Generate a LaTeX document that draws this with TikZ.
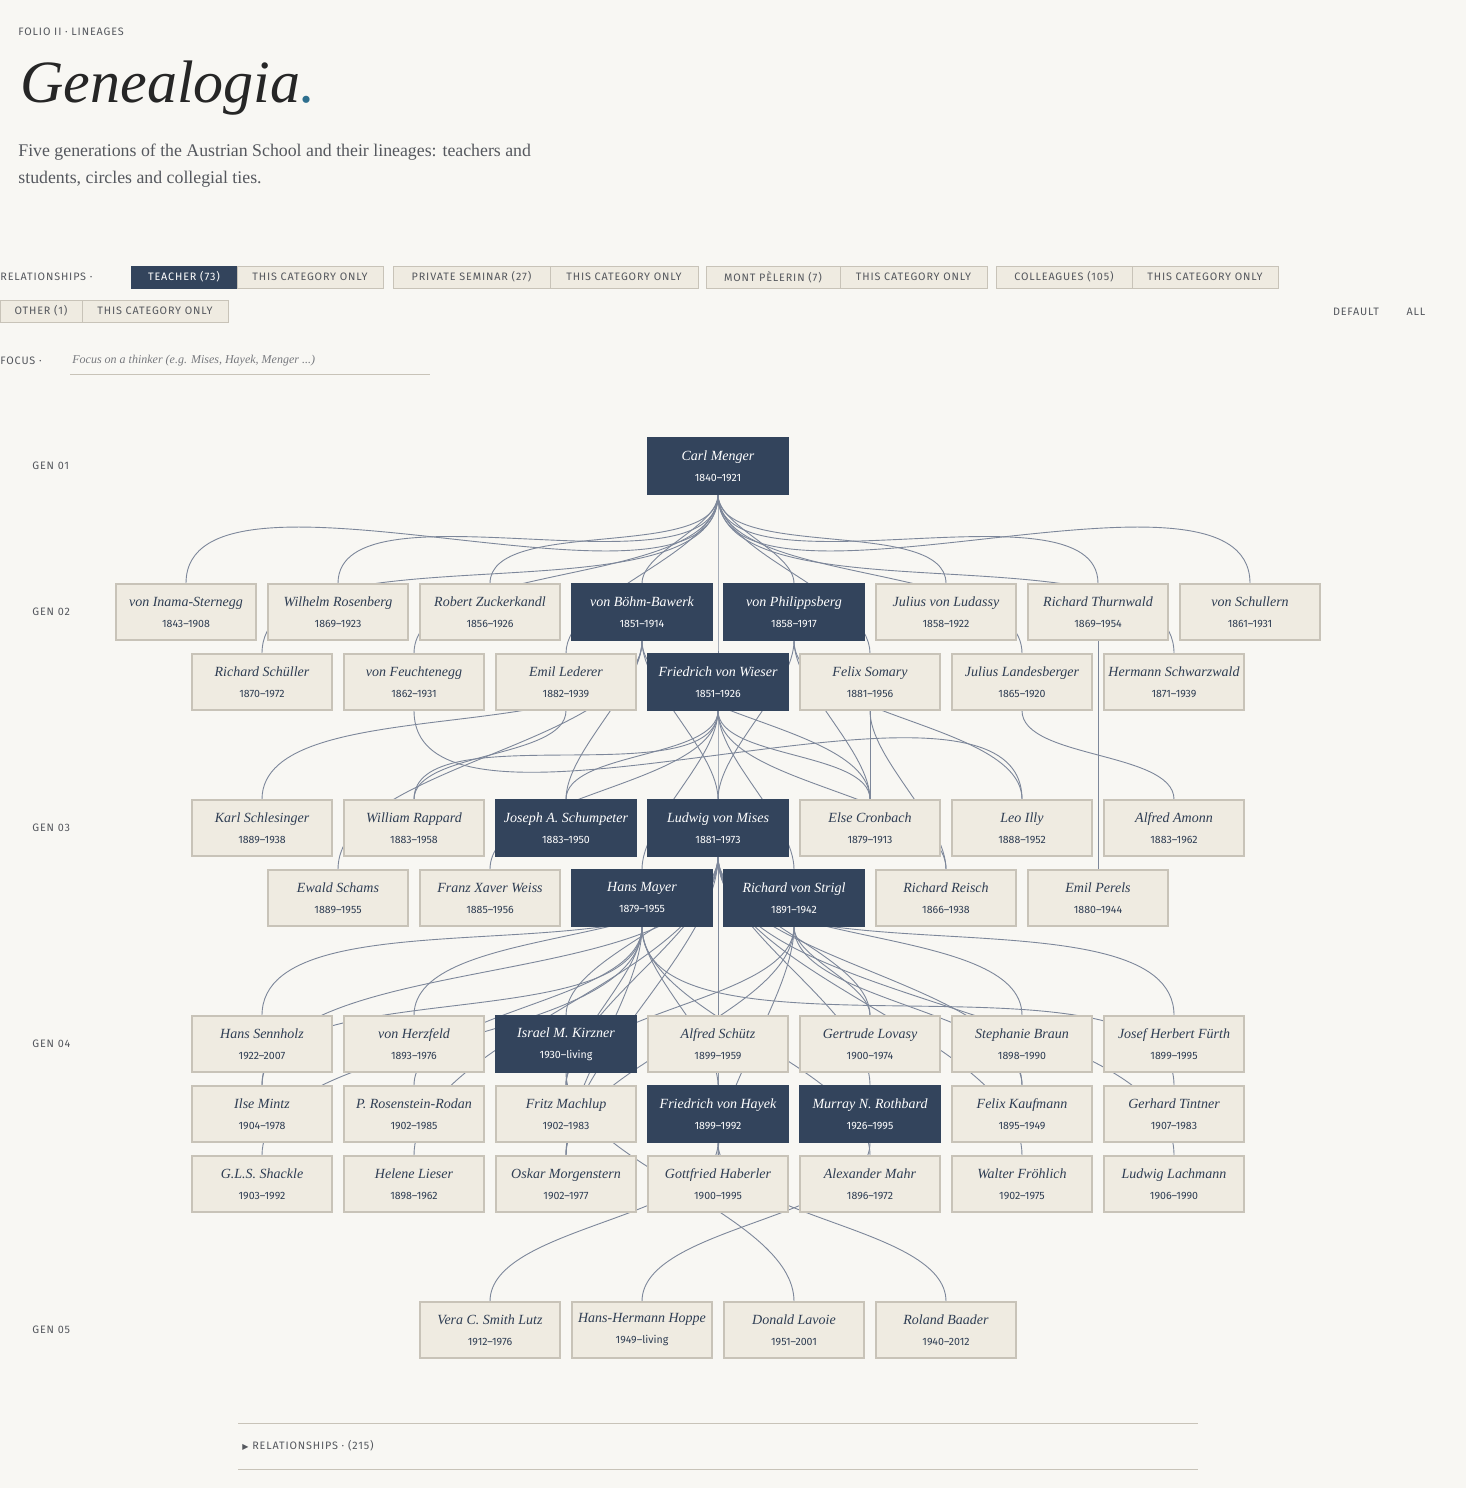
\documentclass[tikz,border=0pt]{standalone}
\usepackage{fontspec}
\setmainfont{Liberation Serif}
\setsansfont{Fira Sans}[LetterSpace=8]
\newfontfamily\yearfont{Fira Sans}
\newfontfamily\symfont{DejaVu Sans}
\definecolor{paper}{HTML}{F8F7F3}
\definecolor{boxfill}{HTML}{EFEBE1}
\definecolor{boxline}{HTML}{C8C3B8}
\definecolor{ink}{HTML}{33445C}
\definecolor{tiec}{HTML}{7D879A}
\definecolor{grey}{HTML}{55585E}
\definecolor{teal}{HTML}{2E6F8E}
\pgfdeclarelayer{bg}
\pgfdeclarelayer{edges}
\pgfsetlayers{bg,edges,main}
\tikzset{
  thinker/.style={draw=boxline, fill=boxfill, line width=0.6pt, minimum width=70pt, minimum height=28pt,
    align=center, inner sep=1pt, text=ink!90!black},
  master/.style={thinker, draw=ink, fill=ink, text=white},
  tie/.style={draw=tiec, line width=0.45pt},
  chip/.style={draw=boxline, fill=boxfill, minimum height=11pt, inner sep=0pt, text=grey,
    font=\sffamily\fontsize{5.4}{6}\selectfont},
  darkchip/.style={chip, draw=ink, fill=ink, text=white},
  lbl/.style={font=\sffamily\fontsize{5.4}{6}\selectfont, text=grey, inner sep=0pt},
}
\newcommand\person[5][thinker]{\node[#1] (#2) at (#3) {{\itshape\fontsize{7}{9}\selectfont #4}\\[-1.5pt]{\yearfont\fontsize{5.3}{7}\selectfont #5}};}
\begin{document}
\begin{tikzpicture}[x=0.5pt,y=-0.5pt]
\begin{pgfonlayer}{bg}
\fill[paper] (0,0) rectangle (1466,1488);
\end{pgfonlayer}
\useasboundingbox (0,0) rectangle (1466,1488);

% header
\node[lbl, anchor=west] (folio) at (18,32) {FOLIO II · LINEAGES};
\node[anchor=west, inner sep=0pt, font=\itshape\fontsize{30}{32}\selectfont, text=black!85] (title) at (20,88) {Genealogia\textcolor{teal}{.}};
\node[anchor=north west, inner sep=0pt, align=left, text=grey, font=\fontsize{8.9}{13.5}\selectfont] (intro) at (18,144)
  {Five generations of the Austrian School and their lineages: teachers and\\students, circles and collegial ties.};

% filters
\node[lbl, anchor=west] (rel) at (0,277) {RELATIONSHIPS ·};
\node[darkchip, minimum width=53pt] (c1) at (184,277) {TEACHER (73)};
\node[chip, minimum width=73pt] (c1o) at (310,277) {THIS CATEGORY ONLY};
\node[chip, minimum width=78.5pt] (c2) at (471.5,277) {PRIVATE SEMINAR (27)};
\node[chip, minimum width=74pt] (c2o) at (624,277) {THIS CATEGORY ONLY};
\node[chip, minimum width=67pt] (c3) at (773,277) {MONT PÈLERIN (7)};
\node[chip, minimum width=73.5pt] (c3o) at (913.5,277) {THIS CATEGORY ONLY};
\node[chip, minimum width=68pt] (c4) at (1064,277) {COLLEAGUES (105)};
\node[chip, minimum width=73pt] (c4o) at (1205,277) {THIS CATEGORY ONLY};
\node[chip, minimum width=41pt] (c5) at (41,311) {OTHER (1)};
\node[chip, minimum width=73pt] (c5o) at (155,311) {THIS CATEGORY ONLY};
\node[lbl] (dflt) at (1356,312) {DEFAULT};
\node[lbl] (all) at (1416,312) {ALL};
\node[lbl, anchor=west] (focus) at (0,361) {FOCUS ·};
\node[anchor=west, inner sep=0pt, text=grey!80, font=\itshape\fontsize{6}{6}\selectfont] (ph) at (72,361) {Focus on a thinker (e.g. Mises, Hayek, Menger ...)};
\draw[boxline, line width=0.5pt] (70,374) -- (430,374);

% generations
\foreach \g/\y in {01/466,02/612,03/828,04/1044,05/1330}
  \node[lbl, anchor=west] (gen\g) at (32,\y) {GEN \g};

% gen 01
\person[master]{menger}{718,466}{Carl Menger}{1840–1921}
% gen 02
\person{inama}{186,612}{von Inama-Sternegg}{1843–1908}
\person{rosenberg}{338,612}{Wilhelm Rosenberg}{1869–1923}
\person{zuckerkandl}{490,612}{Robert Zuckerkandl}{1856–1926}
\person[master]{boehm}{642,612}{von Böhm-Bawerk}{1851–1914}
\person[master]{philipp}{794,612}{von Philippsberg}{1858–1917}
\person{ludassy}{946,612}{Julius von Ludassy}{1858–1922}
\person{thurnwald}{1098,612}{Richard Thurnwald}{1869–1954}
\person{schullern}{1250,612}{von Schullern}{1861–1931}
\person{schuller}{262,682}{Richard Schüller}{1870–1972}
\person{feucht}{414,682}{von Feuchtenegg}{1862–1931}
\person{lederer}{566,682}{Emil Lederer}{1882–1939}
\person[master]{wieser}{718,682}{Friedrich von Wieser}{1851–1926}
\person{somary}{870,682}{Felix Somary}{1881–1956}
\person{landes}{1022,682}{Julius Landesberger}{1865–1920}
\person{schwarz}{1174,682}{Hermann Schwarzwald}{1871–1939}
% gen 03
\person{schlesinger}{262,828}{Karl Schlesinger}{1889–1938}
\person{rappard}{414,828}{William Rappard}{1883–1958}
\person[master]{schumpeter}{566,828}{Joseph A. Schumpeter}{1883–1950}
\person[master]{mises}{718,828}{Ludwig von Mises}{1881–1973}
\person{cronbach}{870,828}{Else Cronbach}{1879–1913}
\person{illy}{1022,828}{Leo Illy}{1888–1952}
\person{amonn}{1174,828}{Alfred Amonn}{1883–1962}
\person{schams}{338,898}{Ewald Schams}{1889–1955}
\person{weiss}{490,898}{Franz Xaver Weiss}{1885–1956}
\person[master]{mayer}{642,898}{Hans Mayer}{1879–1955}
\person[master]{strigl}{794,898}{Richard von Strigl}{1891–1942}
\person{reisch}{946,898}{Richard Reisch}{1866–1938}
\person{perels}{1098,898}{Emil Perels}{1880–1944}
% gen 04
\person{sennholz}{262,1044}{Hans Sennholz}{1922–2007}
\person{herzfeld}{414,1044}{von Herzfeld}{1893–1976}
\person[master]{kirzner}{566,1044}{Israel M. Kirzner}{1930–living}
\person{schuetz}{718,1044}{Alfred Schütz}{1899–1959}
\person{lovasy}{870,1044}{Gertrude Lovasy}{1900–1974}
\person{braun}{1022,1044}{Stephanie Braun}{1898–1990}
\person{fuerth}{1174,1044}{Josef Herbert Fürth}{1899–1995}
\person{mintz}{262,1114}{Ilse Mintz}{1904–1978}
\person{rosen}{414,1114}{P. Rosenstein-Rodan}{1902–1985}
\person{machlup}{566,1114}{Fritz Machlup}{1902–1983}
\person[master]{hayek}{718,1114}{Friedrich von Hayek}{1899–1992}
\person[master]{rothbard}{870,1114}{Murray N. Rothbard}{1926–1995}
\person{kaufmann}{1022,1114}{Felix Kaufmann}{1895–1949}
\person{tintner}{1174,1114}{Gerhard Tintner}{1907–1983}
\person{shackle}{262,1184}{G.L.S. Shackle}{1903–1992}
\person{lieser}{414,1184}{Helene Lieser}{1898–1962}
\person{morgen}{566,1184}{Oskar Morgenstern}{1902–1977}
\person{haberler}{718,1184}{Gottfried Haberler}{1900–1995}
\person{mahr}{870,1184}{Alexander Mahr}{1896–1972}
\person{froehlich}{1022,1184}{Walter Fröhlich}{1902–1975}
\person{lachmann}{1174,1184}{Ludwig Lachmann}{1906–1990}
% gen 05
\person{lutz}{490,1330}{Vera C. Smith Lutz}{1912–1976}
\person{hoppe}{642,1330}{Hans-Hermann Hoppe}{1949–living}
\person{lavoie}{794,1330}{Donald Lavoie}{1951–2001}
\person{baader}{946,1330}{Roland Baader}{1940–2012}

% ties
\begin{pgfonlayer}{edges}
\foreach \a/\b in {menger/inama, menger/rosenberg, menger/zuckerkandl, menger/boehm, menger/philipp,
  menger/ludassy, menger/thurnwald, menger/schullern, menger/schuller, menger/feucht, menger/lederer,
  menger/wieser, menger/somary, menger/landes, menger/schwarz,
  wieser/schumpeter, wieser/mises, wieser/mayer, wieser/strigl, wieser/rappard, wieser/cronbach,
  wieser/reisch, wieser/weiss, boehm/schumpeter, boehm/mises, boehm/schlesinger, boehm/cronbach,
  philipp/mises, philipp/cronbach, philipp/illy, somary/cronbach, somary/reisch, lederer/rappard,
  feucht/illy, landes/amonn, thurnwald/perels, boehm/schams,
  mises/sennholz, mises/herzfeld, mises/kirzner, mises/schuetz, mises/lovasy, mises/braun, mises/fuerth,
  mises/machlup, mises/hayek, mises/rothbard, mises/kaufmann, mises/mintz, mises/lachmann,
  mises/haberler, mises/morgen, mises/lieser, mises/froehlich,
  mayer/hayek, mayer/morgen, mayer/rosen, mayer/mintz, mayer/tintner, mayer/mahr, mayer/shackle, mayer/machlup,
  strigl/haberler, strigl/machlup, strigl/morgen, strigl/lovasy, strigl/kaufmann,
  hayek/lutz, rothbard/hoppe, kirzner/lavoie, hayek/baader}
  \draw[tie] (\a.south) to[out=-90, in=90, looseness=0.7] (\b.north);
\end{pgfonlayer}

% footer
\draw[boxline, line width=0.5pt] (238,1423) -- (1198,1423);
\draw[boxline, line width=0.5pt] (238,1469) -- (1198,1469);
\node[lbl, anchor=west] (more) at (242,1446) {{\symfont\fontsize{4}{5}\selectfont ▶}\ RELATIONSHIPS · (215)};
\end{tikzpicture}
\end{document}
